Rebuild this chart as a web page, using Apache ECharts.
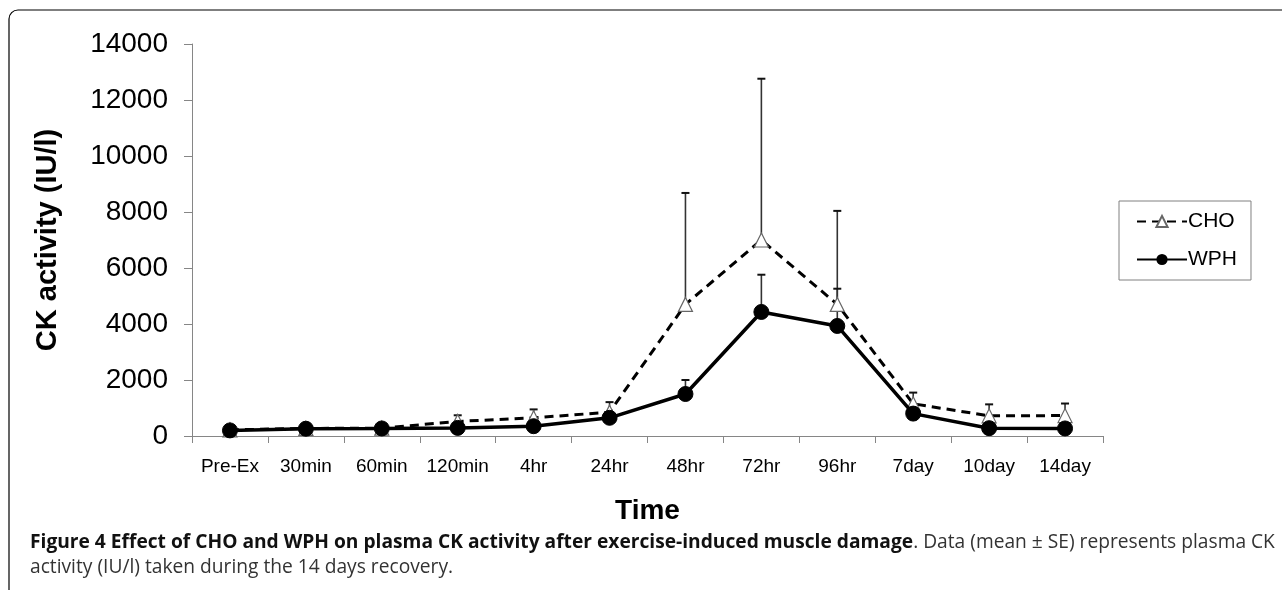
<!DOCTYPE html>
<html>
<head>
<meta charset="utf-8">
<script src="https://cdn.jsdelivr.net/npm/echarts@6/dist/echarts.min.js"></script>
<style>
  html, body { margin: 0; padding: 0; background: #fff; }
  #chart { width: 1282px; height: 590px; }
</style>
</head>
<body>
<div id="chart"></div>
<script>
const categories = ['Pre-Ex', '30min', '60min', '120min', '4hr', '24hr', '48hr', '72hr', '96hr', '7day', '10day', '14day']
const yTicks = [0, 2000, 4000, 6000, 8000, 10000, 12000, 14000]

// mean values (IU/l)
const choMean = [220, 270, 280, 520, 650, 850, 4700, 7000, 4700, 1150, 720, 730]
const wphMean = [200, 260, 270, 290, 350, 650, 1500, 4430, 3930, 800, 280, 270]
// standard error (only upper bar drawn)
const choSE = [60, 80, 90, 220, 300, 360, 3980, 5760, 3340, 400, 410, 430]
const wphSE = [50, 60, 60, 70, 80, 100, 500, 1330, 1330, 120, 70, 70]

const font = 'Liberation Sans, Arial, sans-serif'
const captionFont = 'Open Sans, sans-serif'

function errorData(mean, se) {
  return mean.map((m, i) => [i, m, m + se[i]])
}

function renderError(params, api) {
  const base = api.coord([api.value(0), api.value(1)])
  const top = api.coord([api.value(0), api.value(2)])
  const half = 4
  return {
    type: 'group',
    children: [
      { type: 'line', shape: { x1: base[0], y1: base[1], x2: top[0], y2: top[1] }, style: { stroke: '#333', lineWidth: 1.6 } },
      { type: 'line', shape: { x1: top[0] - half, y1: top[1], x2: top[0] + half, y2: top[1] }, style: { stroke: '#111', lineWidth: 2 } }
    ]
  }
}

const chart = echarts.init(document.getElementById('chart'))

chart.setOption({
  backgroundColor: '#fff',
  animation: false,
  grid: {
    left: 192,
    right: 179,
    top: 44,
    bottom: 154
  },
  legend: {
    orient: 'vertical',
    left: 1119,
    top: 201,
    width: 147,
    padding: [10, 14, 10, 17],
    itemGap: 17,
    itemWidth: 50,
    itemHeight: 14,
    borderColor: '#808080',
    borderWidth: 1,
    textStyle: { fontFamily: font, fontSize: 21, color: '#000', padding: [0, 0, 0, -4] },
    data: ['CHO', 'WPH']
  },
  xAxis: {
    type: 'category',
    data: categories,
    boundaryGap: true,
    name: 'Time',
    nameLocation: 'middle',
    nameGap: 61,
    nameTextStyle: { fontFamily: font, fontSize: 28, fontWeight: 'bold', color: '#000' },
    axisLine: { lineStyle: { color: '#868686', width: 1 } },
    axisTick: { show: true, length: 7, lineStyle: { color: '#868686' } },
    axisLabel: { fontFamily: font, fontSize: 19, color: '#000', margin: 21, interval: 0 },
    splitLine: { show: false }
  },
  yAxis: {
    type: 'value',
    min: 0,
    max: 14000,
    interval: 2000,
    name: 'CK activity (IU/l)',
    nameLocation: 'middle',
    nameGap: 130,
    nameTextStyle: { fontFamily: font, fontSize: 29, fontWeight: 'bold', color: '#000' },
    axisLine: { show: true, lineStyle: { color: '#868686', width: 1 } },
    axisTick: { show: true, length: 8, lineStyle: { color: '#868686' } },
    axisLabel: {
      fontFamily: font, fontSize: 28, color: '#000', margin: 24,
      formatter: function (v) { return yTicks.indexOf(v) >= 0 ? String(v) : '' }
    },
    splitLine: { show: false }
  },
  series: [
    {
      name: 'CHO error',
      type: 'custom',
      renderItem: renderError,
      data: errorData(choMean, choSE),
      z: 1,
      silent: true
    },
    {
      name: 'WPH error',
      type: 'custom',
      renderItem: renderError,
      data: errorData(wphMean, wphSE),
      z: 1,
      silent: true
    },
    {
      name: 'CHO',
      type: 'line',
      data: choMean,
      symbol: 'triangle',
      symbolSize: 14,
      lineStyle: { color: '#000', width: 3, type: [9, 6] },
      itemStyle: { color: '#fff', borderColor: '#666', borderWidth: 1.2 },
      z: 3
    },
    {
      name: 'WPH',
      type: 'line',
      data: wphMean,
      symbol: 'circle',
      symbolSize: 15,
      lineStyle: { color: '#000', width: 3.5 },
      itemStyle: { color: '#000', borderColor: '#000' },
      z: 4
    }
  ],
  graphic: [
    {
      type: 'rect',
      shape: { x: 9, y: 10, width: 1400, height: 700, r: [9, 0, 0, 0] },
      style: { fill: 'none', stroke: '#000', lineWidth: 1.2 },
      silent: true
    },
    {
      type: 'text',
      left: 30,
      top: 533,
      style: {
        text: '{b|Figure 4 Effect of CHO and WPH on plasma CK activity after exercise-induced muscle damage}{n|. Data (mean \u00b1 SE) represents plasma CK}',
        rich: {
          b: { fontFamily: captionFont, fontSize: 19.2, fontWeight: 'bold', fill: '#111' },
          n: { fontFamily: captionFont, fontSize: 19.2, fill: '#333' }
        }
      }
    },
    {
      type: 'text',
      left: 30,
      top: 558,
      style: {
        text: 'activity (IU/l) taken during the 14 days recovery.',
        fontFamily: captionFont,
        fontSize: 19.2,
        fill: '#333'
      }
    }
  ]
})
</script>
</body>
</html>
